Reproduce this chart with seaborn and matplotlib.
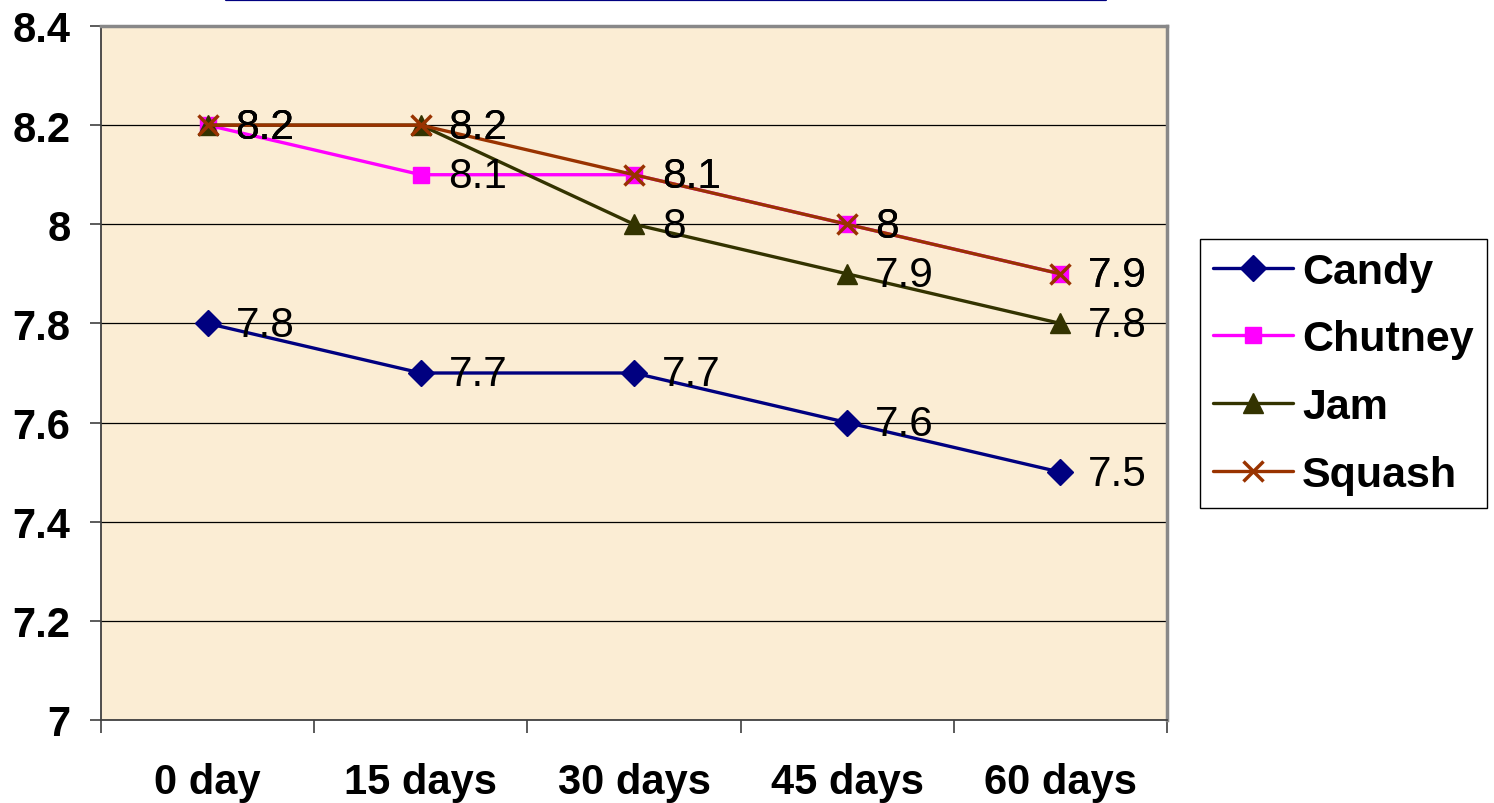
import matplotlib
matplotlib.use("Agg")
import matplotlib.pyplot as plt
from matplotlib.lines import Line2D
import seaborn as sns
import pandas as pd

categories = ["0 day", "15 days", "30 days", "45 days", "60 days"]
candy = [7.8, 7.7, 7.7, 7.6, 7.5]
chutney = [8.2, 8.1, 8.1, 8.0, 7.9]
jam = [8.2, 8.2, 8.0, 7.9, 7.8]
squash = [8.2, 8.2, 8.1, 8.0, 7.9]
series_names = ["Candy", "Chutney", "Jam", "Squash"]
y_ticks = [7.0, 7.2, 7.4, 7.6, 7.8, 8.0, 8.2, 8.4]

series_values = [candy, chutney, jam, squash]
colors = ["#000080", "#FF00FF", "#333300", "#993300"]
markers = ["D", "s", "^", "x"]
msizes = [13, 12, 14, 14]

sns.set_theme(style="white")
plt.rcParams["font.family"] = ["Liberation Sans", "DejaVu Sans"]
plt.rcParams["text.color"] = "black"
plt.rcParams["xtick.color"] = "black"
plt.rcParams["ytick.color"] = "black"

fig = plt.figure(figsize=(14.94, 8.04), dpi=100)
ax = fig.add_axes([101 / 1494, 83 / 804, (1167 - 101) / 1494, (721 - 27) / 804])
ax.set_facecolor("#FBEDD4")

xpos = list(range(len(categories)))
for name, vals, c, m, ms in zip(series_names, series_values, colors, markers, msizes):
    df = pd.DataFrame({"x": xpos, "y": vals})
    sns.lineplot(data=df, x="x", y="y", ax=ax, color=c, marker=m, markersize=ms,
                 markeredgecolor=c, markerfacecolor=c, markeredgewidth=2.5 if m == "x" else 1,
                 linewidth=2.4, label=name, zorder=3)
    for xi, v in zip(xpos, vals):
        ax.annotate(f"{v:g}", (xi, v), xytext=(20, -1), textcoords="offset points",
                    ha="left", va="center", fontsize=30.5, color="black", zorder=4)

ax.set_xlim(-0.5, len(categories) - 0.5)
ax.set_ylim(7.0, 8.4)
ax.set_yticks(y_ticks)
ax.set_yticklabels([f"{t:g}" for t in y_ticks], fontsize=30, fontweight="bold", color="black")
ax.set_xticks(xpos)
ax.set_xticklabels(categories, fontsize=30, fontweight="bold", color="black")
ax.set_xticks([i - 0.5 for i in range(len(categories) + 1)], minor=True)
ax.tick_params(axis="x", which="major", length=0, pad=30)
ax.tick_params(axis="x", which="minor", length=9, width=1.2, color="#404040", direction="out", bottom=True)
ax.tick_params(axis="y", which="major", length=8, width=1.2, color="#404040", direction="out", left=True, pad=14)
ax.set_xlabel("")
ax.set_ylabel("")
ax.yaxis.grid(True, color="black", linewidth=0.9)
ax.set_axisbelow(True)

for side in ["left", "bottom"]:
    ax.spines[side].set_color("#404040")
    ax.spines[side].set_linewidth(1.3)
for side in ["top", "right"]:
    ax.spines[side].set_color("#888888")
    ax.spines[side].set_linewidth(2.5)

handles, labels = ax.get_legend_handles_labels()
ax.get_legend().remove()
leg = fig.legend(handles, labels, loc="upper left", bbox_to_anchor=(1200 / 1494, 1 - 240 / 804),
                 prop={"size": 31, "weight": "bold"}, frameon=True, fancybox=False,
                 edgecolor="black", framealpha=1, handlelength=1.85, handletextpad=0.22,
                 labelspacing=0.64, borderpad=0.3, borderaxespad=0)
leg.get_frame().set_linewidth(1.0)
for t in leg.get_texts():
    t.set_color("black")

fig.add_artist(Line2D([226 / 1494, 1106 / 1494], [1 - 1.2 / 804] * 2, color="#000080", linewidth=1.6))

fig.savefig("out.png", dpi=100)
